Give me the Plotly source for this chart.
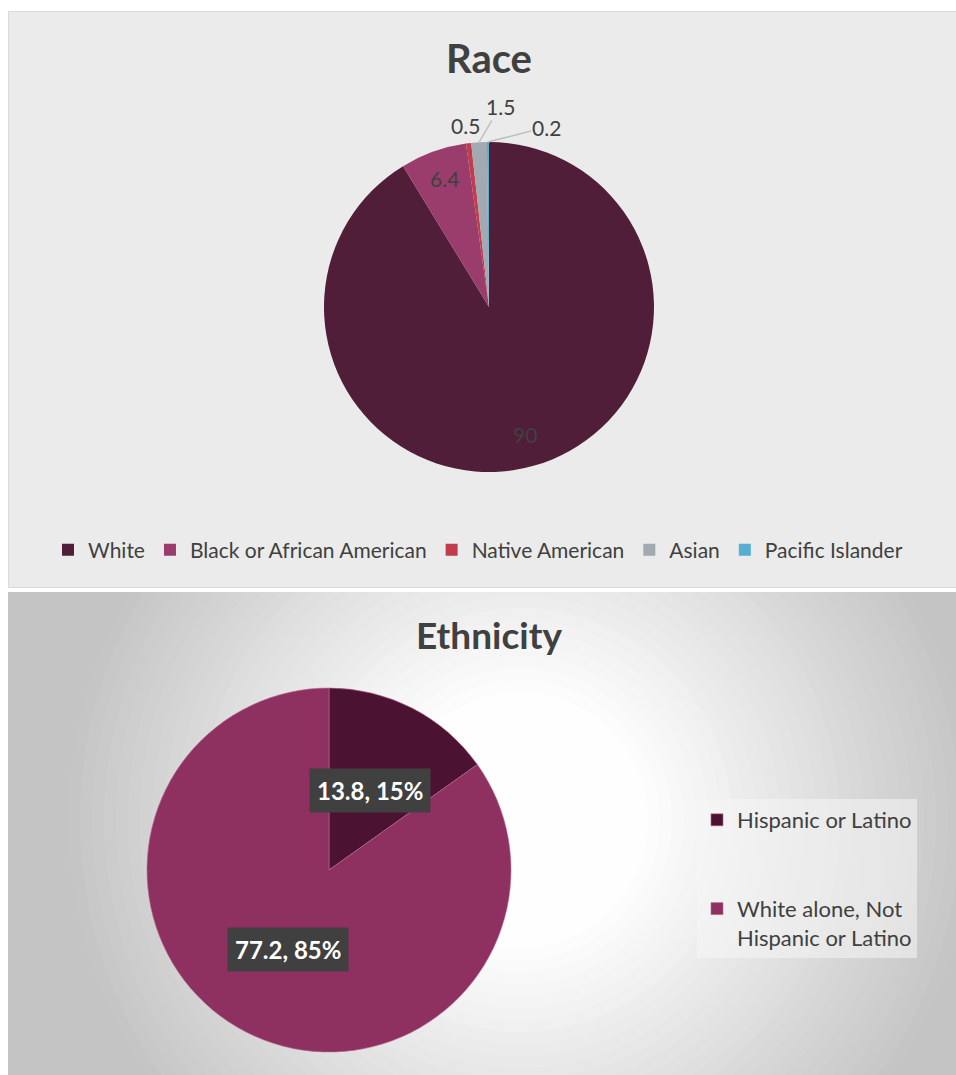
import math
import plotly.graph_objects as go

W, H = 956, 1075

# ---------------- data ----------------
race_labels = ["White", "Black or African American", "Native American", "Asian", "Pacific Islander"]
race_values = [90, 6.4, 0.5, 1.5, 0.2]
race_colors = ["#511e3a", "#9a3c6c", "#bf3d4d", "#a3a9b0", "#56aed0"]

eth_labels = ["Hispanic or Latino<br> <br> ", "White alone, Not<br>Hispanic or Latino"]
eth_values = [13.8, 77.2]
eth_colors = ["#4b1232", "#8e3060"]

# label placement styles for race slices: (radius fraction, dx px, dy px, leader line)
race_label_style = [(0.8, 0, 0, False), (0.8, 0, -4, False),
                    (1.0, -3, -18, False), (1.0, 21, -36, True), (1.0, 59, -15, True)]

FONT = "Lato"
TXT = "#404040"


def px_x(x):
    return x / W


def px_y(y):
    return 1 - y / H


# pie geometry (pixels)
race_c, race_r = (489, 307), 165
eth_c, eth_r = (329, 870), 182

fig = go.Figure()

fig.add_trace(go.Pie(
    labels=race_labels, values=race_values, sort=False, direction="clockwise",
    rotation=0,
    marker=dict(colors=race_colors, line=dict(width=0)),
    textinfo="none",
    domain=dict(x=[px_x(race_c[0] - race_r), px_x(race_c[0] + race_r)],
                y=[px_y(race_c[1] + race_r), px_y(race_c[1] - race_r)]),
    legend="legend", showlegend=True, hoverinfo="label+value",
))

fig.add_trace(go.Pie(
    labels=eth_labels, values=eth_values, sort=False, direction="clockwise",
    rotation=0,
    marker=dict(colors=eth_colors, line=dict(width=0.6, color="#b56a8e")),
    textinfo="none",
    domain=dict(x=[px_x(eth_c[0] - eth_r), px_x(eth_c[0] + eth_r)],
                y=[px_y(eth_c[1] + eth_r), px_y(eth_c[1] - eth_r)]),
    legend="legend2", showlegend=True, hoverinfo="label+value+percent",
))

# ---------------- background shapes ----------------
shapes = []
shapes.append(dict(type="rect", xref="paper", yref="paper", x0=0, x1=1, y0=0, y1=px_y(592),
                   fillcolor="#c2c2c2", line=dict(width=0), layer="below"))
gc = (520, 820)
r = 620
while r >= 110:
    t = min(max((r - 130) / (460 - 130), 0), 1)
    v = int(round(254 - (254 - 196) * t))
    shapes.append(dict(type="circle", xref="paper", yref="paper",
                       x0=px_x(gc[0] - r), x1=px_x(gc[0] + r),
                       y0=px_y(gc[1] + r), y1=px_y(gc[1] - r),
                       fillcolor=f"rgb({v},{v},{v})", line=dict(width=0), layer="below"))
    r -= 12
shapes.append(dict(type="rect", xref="paper", yref="paper", x0=0, x1=px_x(8), y0=0, y1=1,
                   fillcolor="white", line=dict(width=0), layer="below"))
shapes.append(dict(type="rect", xref="paper", yref="paper", x0=0, x1=1, y0=px_y(592), y1=1,
                   fillcolor="white", line=dict(width=0), layer="below"))
shapes.append(dict(type="rect", xref="paper", yref="paper", x0=px_x(8.5), x1=px_x(962),
                   y0=px_y(587.5), y1=px_y(11.5),
                   fillcolor="#ebebeb", line=dict(width=1, color="#d9d9d9"), layer="below"))

# ---------------- annotations ----------------
annotations = [
    dict(text="<b>Race</b>", x=px_x(489), y=px_y(58), xref="paper", yref="paper",
         showarrow=False, font=dict(family=FONT, size=40, color=TXT), xanchor="center", yanchor="middle"),
    dict(text="<b>Ethnicity</b>", x=px_x(489), y=px_y(634), xref="paper", yref="paper",
         showarrow=False, font=dict(family=FONT, size=37, color=TXT), xanchor="center", yanchor="middle"),
]

# race data labels
rtot = sum(race_values)
cum = 0.0
for v, (rf, dx, dy, line) in zip(race_values, race_label_style):
    mid = (cum + v / 2) / rtot * 2 * math.pi
    cum += v
    ex = race_c[0] + rf * race_r * math.sin(mid)
    ey = race_c[1] - rf * race_r * math.cos(mid)
    if line:
        annotations.append(dict(text=f"{v:g}", x=px_x(ex), y=px_y(ey), xref="paper", yref="paper",
                                showarrow=True, ax=dx, ay=dy, arrowhead=0, arrowwidth=1.5,
                                arrowcolor="#bfbfbf", standoff=0,
                                font=dict(family=FONT, size=21, color=TXT)))
    else:
        annotations.append(dict(text=f"{v:g}", x=px_x(ex), y=px_y(ey), xref="paper", yref="paper",
                                showarrow=False, xshift=dx, yshift=-dy,
                                xanchor="center", yanchor="middle",
                                font=dict(family=FONT, size=21, color=TXT)))

# ethnicity data labels (at half radius along slice mid-angle)
total = sum(eth_values)
cum = 0.0
for v in eth_values:
    mid = (cum + v / 2) / total * 2 * math.pi
    cum += v
    lx = eth_c[0] + 0.49 * eth_r * math.sin(mid)
    ly = eth_c[1] - 0.49 * eth_r * math.cos(mid)
    pct = round(v / total * 100)
    annotations.append(dict(
        text=f"<b>{v:g}, {pct}%</b>", x=px_x(lx), y=px_y(ly), xref="paper", yref="paper",
        showarrow=False, font=dict(family=FONT, size=24, color="white"),
        bgcolor="#404040", borderpad=7, xanchor="center", yanchor="middle"))

fig.update_layout(
    width=W, height=H, autosize=False,
    margin=dict(l=0, r=0, t=0, b=0),
    paper_bgcolor="white", plot_bgcolor="rgba(0,0,0,0)",
    shapes=shapes, annotations=annotations,
    legend=dict(orientation="h", x=0.5, xanchor="center", y=px_y(550), yanchor="middle",
                font=dict(family=FONT, size=21, color=TXT), bgcolor="rgba(0,0,0,0)",
                itemclick=False, itemdoubleclick=False),
    legend2=dict(orientation="v", x=px_x(697), xanchor="left", y=px_y(799), yanchor="top",
                 font=dict(family=FONT, size=22, color=TXT), bgcolor="rgba(245,245,245,0.55)",
                 valign="top", itemclick=False, itemdoubleclick=False),
    font=dict(family=FONT, color=TXT),
)

fig.write_html("out.html", config={"displayModeBar": False},
               post_script="document.body.style.margin='0px';document.documentElement.style.overflow='hidden';")
